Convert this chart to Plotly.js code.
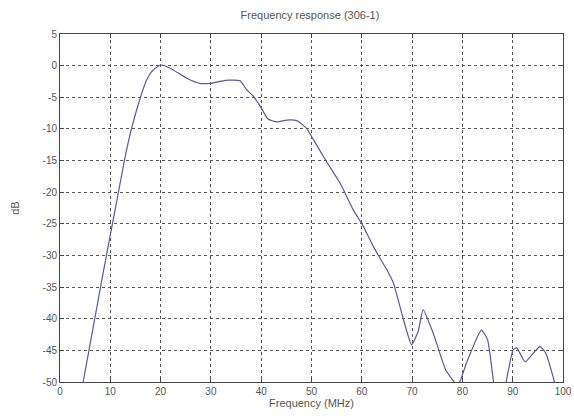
<!DOCTYPE html>
<html>
<head>
<meta charset="utf-8">
<script src="https://cdn.plot.ly/plotly-3.0.1.min.js"></script>
<style>html,body{margin:0;padding:0;background:#fff;}#chart{width:574px;height:419px;}</style>
</head>
<body>
<div id="chart"></div>
<script>
// Frequency (MHz)
var freq = [3.7, 4.6, 12.8, 14.2, 16.0, 17.2, 18.5, 20.0, 21.9, 25.2, 27.8, 29.8, 31.8, 33.5, 35.8, 37.1, 38.4, 40.1, 41.3, 43.1, 45.1, 47.1, 49.0, 50.4, 53.0, 55.7, 58.3, 60.3, 62.3, 65.0, 66.3, 68.3, 69.9, 71.2, 72.2, 74.2, 76.7, 79.1, 80.8, 83.2, 83.8, 85.0, 86.2, 87.0, 88.0, 88.7, 90.1, 90.8, 91.8, 92.5, 95.4, 96.6, 98.3, 99.0];
// Response (dB)
var response = [-55, -50, -15, -10, -5, -2.3, -0.7, 0.1, -0.4, -2.0, -2.8, -2.8, -2.5, -2.3, -2.4, -3.8, -4.8, -6.8, -8.4, -8.9, -8.6, -8.7, -9.9, -11.7, -15.2, -18.6, -22.8, -25.4, -28.6, -32.3, -34.4, -40.2, -44.1, -42.0, -38.6, -42.3, -48.1, -50.5, -47.0, -42.5, -41.8, -43.3, -50, -53, -53, -50, -44.9, -44.6, -46.0, -46.8, -44.4, -45.5, -50, -53];

var xTicks = [0, 10, 20, 30, 40, 50, 60, 70, 80, 90, 100];
var yTicks = [5, 0, -5, -10, -15, -20, -25, -30, -35, -40, -45, -50];

var axisFont = {family: 'Liberation Sans, Arial, sans-serif', size: 10, color: '#555'};

var trace = {
  x: freq,
  y: response,
  type: 'scatter',
  mode: 'lines',
  line: {color: '#5558a8', width: 1.2, shape: 'spline', smoothing: 0.5},
  hoverinfo: 'skip'
};

var layout = {
  width: 574,
  height: 419,
  margin: {l: 60, r: 11, t: 34, b: 37},
  paper_bgcolor: '#ffffff',
  plot_bgcolor: '#ffffff',
  showlegend: false,
  title: {
    text: 'Frequency response (306-1)',
    font: {family: 'Liberation Sans, Arial, sans-serif', size: 11, color: '#555'},
    x: 0.54, xanchor: 'center', y: 0.965, yanchor: 'middle'
  },
  xaxis: {
    range: [0, 100],
    tickvals: xTicks,
    ticktext: xTicks.map(String),
    ticks: 'inside', ticklen: 4, tickcolor: '#444',
    showline: true, linecolor: '#444', linewidth: 1, mirror: 'ticks',
    showgrid: true, gridcolor: '#555', griddash: 'dot', gridwidth: 1,
    zeroline: false,
    tickfont: axisFont,
    title: {text: 'Frequency (MHz)', font: {family: 'Liberation Sans, Arial, sans-serif', size: 11, color: '#555'}, standoff: 2}
  },
  yaxis: {
    range: [-50, 5],
    tickvals: yTicks,
    ticktext: yTicks.map(String),
    ticks: 'inside', ticklen: 4, tickcolor: '#444',
    showline: true, linecolor: '#444', linewidth: 1, mirror: 'ticks',
    showgrid: true, gridcolor: '#555', griddash: 'dot', gridwidth: 1,
    zeroline: false,
    tickfont: axisFont,
    title: {text: 'dB', font: {family: 'Liberation Sans, Arial, sans-serif', size: 11, color: '#555'}, standoff: 20}
  }
};

Plotly.newPlot('chart', [trace], layout, {staticPlot: true, displayModeBar: false});
</script>
</body>
</html>
